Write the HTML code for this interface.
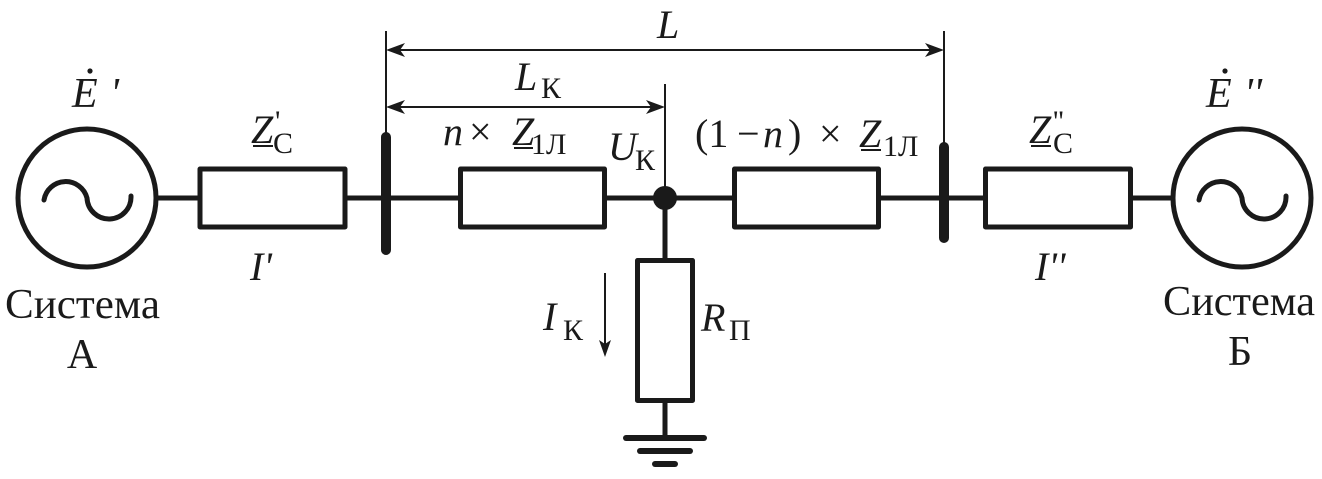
<!DOCTYPE html>
<html>
<head>
<meta charset="utf-8">
<style>
  html, body { margin:0; padding:0; background:#fff; }
  svg { display:block; }
  svg text { font-family: "Liberation Serif", "DejaVu Serif", "Noto Serif CJK SC", serif; fill:#1a1a1a; }
  .it { font-style: italic; }
</style>
</head>
<body>
<svg width="1322" height="479" viewBox="0 0 1322 479" xmlns="http://www.w3.org/2000/svg">
  <g stroke="#1a1a1a" fill="none" stroke-linecap="round" stroke-linejoin="round">
    <line x1="156" y1="198" x2="1173" y2="198" stroke-width="5"/>
    <circle cx="87" cy="198" r="69" stroke-width="5"/>
    <circle cx="1242" cy="198" r="69" stroke-width="5"/>
    <path d="M44,200 A22,22 0 0 1 87,198 A22,22 0 0 0 131,196" stroke-width="5"/>
    <path d="M1199,200 A22,22 0 0 1 1242,198 A22,22 0 0 0 1286,196" stroke-width="5"/>
    <rect x="200" y="169" width="145" height="58" fill="#fff" stroke-width="5"/>
    <rect x="460.5" y="169" width="144" height="58" fill="#fff" stroke-width="5"/>
    <rect x="734.5" y="169" width="144" height="58" fill="#fff" stroke-width="5"/>
    <rect x="985.5" y="169" width="145" height="58" fill="#fff" stroke-width="5"/>
    <line x1="386" y1="137" x2="386" y2="250" stroke-width="10"/>
    <line x1="944" y1="147" x2="944" y2="238" stroke-width="10"/>
    <line x1="665" y1="198" x2="665" y2="260" stroke-width="5"/>
    <rect x="637.5" y="260.5" width="55" height="140" fill="#fff" stroke-width="5"/>
    <line x1="665" y1="401" x2="665" y2="438" stroke-width="5"/>
    <line x1="626" y1="438" x2="704" y2="438" stroke-width="6"/>
    <line x1="640" y1="451" x2="690" y2="451" stroke-width="6"/>
    <line x1="655" y1="464" x2="675" y2="464" stroke-width="6"/>
  </g>
  <circle cx="665" cy="198" r="12" fill="#1a1a1a"/>

  <g stroke="#1a1a1a" stroke-width="2" fill="none">
    <line x1="386" y1="31" x2="386" y2="134"/>
    <line x1="944" y1="31" x2="944" y2="144"/>
    <line x1="665" y1="84" x2="665" y2="196"/>
    <line x1="390" y1="50" x2="940" y2="50"/>
    <line x1="390" y1="107" x2="661" y2="107"/>
    <line x1="605" y1="273" x2="605" y2="344"/>
  </g>
  <g fill="#1a1a1a">
    <path d="M386,50 L405,43 L400,50 L405,57 Z"/>
    <path d="M944,50 L925,43 L930,50 L925,57 Z"/>
    <path d="M386,107 L405,100 L400,107 L405,114 Z"/>
    <path d="M665,107 L646,100 L651,107 L646,114 Z"/>
    <path d="M605,357 L599,340 L605,344 L611,340 Z"/>
    <circle cx="90" cy="71" r="2.6"/>
    <circle cx="1225" cy="71" r="2.6"/>
  </g>

  <text x="72" y="107" font-size="42" class="it">E</text>
  <text x="110" y="107" font-size="42" class="it">'</text>
  <text x="1206" y="107" font-size="42" class="it">E</text>
  <text x="1244" y="107" font-size="42" class="it">''</text>

  <text x="251" y="143" font-size="40" class="it">Z</text>
  <text x="275" y="131" font-size="30">'</text>
  <text x="273" y="153" font-size="30">С</text>
  <line x1="253" y1="146" x2="273" y2="146" stroke="#1a1a1a" stroke-width="2"/>

  <text x="1029" y="143" font-size="40" class="it">Z</text>
  <text x="1053" y="131" font-size="30">''</text>
  <text x="1053" y="153" font-size="30">С</text>
  <line x1="1031" y1="146" x2="1051" y2="146" stroke="#1a1a1a" stroke-width="2"/>

  <text x="443" y="145" font-size="40" class="it">n</text>
  <text x="469" y="145" font-size="40">×</text>
  <text x="512" y="145" font-size="40" class="it">Z</text>
  <text x="531" y="154" font-size="30">1Л</text>
  <line x1="514" y1="148" x2="533" y2="148" stroke="#1a1a1a" stroke-width="2"/>

  <text x="695" y="147" font-size="40">(1</text>
  <text x="737" y="147" font-size="40">−</text>
  <text x="763" y="147" font-size="40" class="it">n</text>
  <text x="788" y="147" font-size="40">)</text>
  <text x="819" y="147" font-size="40">×</text>
  <text x="859" y="147" font-size="40" class="it">Z</text>
  <text x="883" y="156" font-size="30">1Л</text>
  <line x1="861" y1="150" x2="881" y2="150" stroke="#1a1a1a" stroke-width="2"/>

  <text x="608" y="160" font-size="40" class="it">U</text>
  <text x="635" y="170" font-size="30">К</text>

  <text x="657" y="38" font-size="40" class="it">L</text>
  <text x="515" y="90" font-size="40" class="it">L</text>
  <text x="541" y="98" font-size="30">К</text>

  <text x="250" y="280" font-size="40" class="it">I'</text>
  <text x="1035" y="280" font-size="40" class="it">I''</text>

  <text x="543" y="330" font-size="40" class="it">I</text>
  <text x="563" y="340" font-size="30">К</text>
  <text x="701" y="331" font-size="40" class="it">R</text>
  <text x="729" y="340" font-size="30">П</text>

  <text x="5" y="318" font-size="42" textLength="155" lengthAdjust="spacingAndGlyphs">Система</text>
  <text x="82" y="368" font-size="42" text-anchor="middle">А</text>
  <text x="1163" y="315" font-size="42" textLength="152" lengthAdjust="spacingAndGlyphs">Система</text>
  <text x="1240" y="365" font-size="42" text-anchor="middle">Б</text>
</svg>
</body>
</html>
